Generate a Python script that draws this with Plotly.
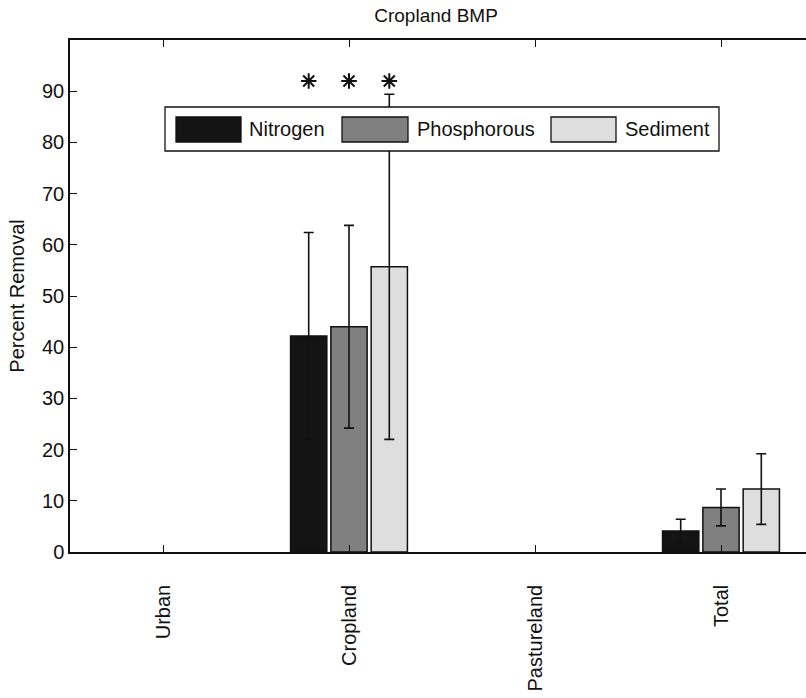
import plotly.graph_objects as go

categories = ["Urban", "Cropland", "Pastureland", "Total"]
cat_pos = [1, 2, 3, 4]
series_names = ["Nitrogen", "Phosphorous", "Sediment"]
nitrogen = [0, 42.2, 0, 4.1]
nitrogen_err = [None, 20.2, None, 2.3]
phosphorous = [0, 44.0, 0, 8.7]
phosphorous_err = [None, 19.8, None, 3.6]
sediment = [0, 55.7, 0, 12.3]
sediment_err = [None, 33.7, None, 6.9]
sig_level = [92, 92, 92]
y_ticks = [0, 10, 20, 30, 40, 50, 60, 70, 80, 90]

colors = ["#141414", "#808080", "#dedede"]
values = [nitrogen, phosphorous, sediment]
errors = [nitrogen_err, phosphorous_err, sediment_err]

BARGAP = 0.35
slot = (1 - BARGAP) / 3

FONT = "Liberation Sans, Arial, Helvetica, sans-serif"
INK = "#111111"

fig = go.Figure()
for name, vals, errs, col in zip(series_names, values, errors, colors):
    # zero-height bars (no data shown) are left empty, as in the original
    shown = [v if v else None for v in vals]
    fig.add_trace(go.Bar(
        x=cat_pos, y=shown, name=name, showlegend=False,
        marker=dict(color=col, line=dict(color=INK, width=1.5)),
        error_y=dict(type="data", array=[e if e is not None else 0 for e in errs],
                     visible=True, color=INK, thickness=1.6, width=5),
    ))

# significance asterisks above the Cropland group
sig_x = [2 + (i - 1) * slot for i in range(3)]
fig.add_trace(go.Scatter(
    x=sig_x, y=sig_level, mode="markers", showlegend=False,
    marker=dict(symbol="asterisk-open", size=13, color=INK,
                line=dict(color=INK, width=2)),
    hoverinfo="skip",
))

# plot area in pixels: x 70..806, y 40..552
PX0, PW, PY0, PH = 70, 736, 552, 512
def px(x):
    return (x - PX0) / PW
def py(y):
    return (PY0 - y) / PH

shapes = []
annotations = []
# legend box
shapes.append(dict(type="rect", xref="paper", yref="paper",
                   x0=px(165), x1=px(719), y0=py(151), y1=py(107),
                   line=dict(color=INK, width=1.3), fillcolor="white", layer="above"))
legend_items = [(176, 241, 247), (342, 408, 415), (551, 616, 623)]
for (sx0, sx1, tx), name, col in zip(legend_items, series_names, colors):
    shapes.append(dict(type="rect", xref="paper", yref="paper",
                       x0=px(sx0), x1=px(sx1), y0=py(142), y1=py(117),
                       line=dict(color=INK, width=1.3), fillcolor=col, layer="above"))
    annotations.append(dict(xref="paper", yref="paper", x=px(tx), y=py(129),
                            xanchor="left", yanchor="middle", showarrow=False,
                            text=name, font=dict(size=20, color=INK)))

fig.update_layout(
    width=806, height=698,
    margin=dict(l=70, r=0, t=40, b=146),
    paper_bgcolor="white", plot_bgcolor="white",
    barmode="group", bargap=BARGAP, bargroupgap=0.1,
    font=dict(family=FONT, size=20, color=INK),
    title=dict(text="Cropland BMP", x=0.541, xanchor="center", y=0.978, yanchor="middle",
               font=dict(size=19)),
    showlegend=False,
    shapes=shapes,
    annotations=annotations,
)
fig.update_xaxes(
    range=[0.5, 4.457], tickmode="array", tickvals=cat_pos, ticktext=categories,
    tickangle=-90, ticks="inside", ticklen=7, tickcolor=INK,
    showline=True, linecolor=INK, linewidth=1.5, mirror="ticks",
    showgrid=False, zeroline=False, ticklabelstandoff=23,
)
fig.update_yaxes(
    range=[0, 100], tickmode="array", tickvals=y_ticks,
    ticks="inside", ticklen=7, tickcolor=INK,
    showline=True, linecolor=INK, linewidth=1.5, mirror=False,
    showgrid=False, zeroline=False,
    title=dict(text="Percent Removal", font=dict(size=20), standoff=12),
)

fig.write_html("out.html")
